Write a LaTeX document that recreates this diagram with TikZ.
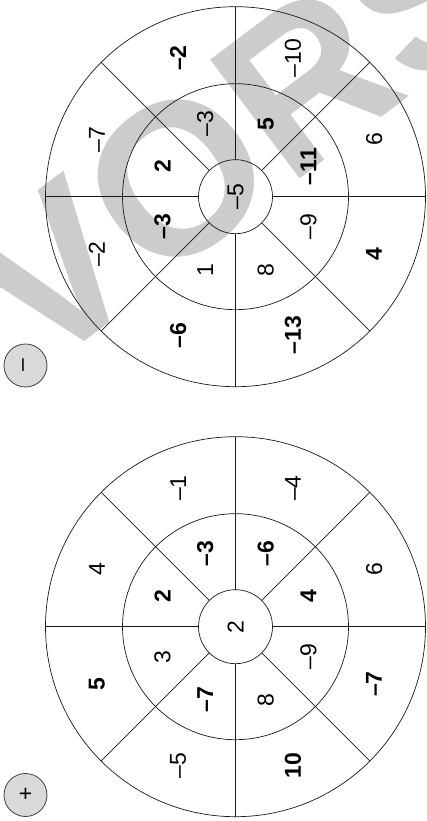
\documentclass[tikz,border=0pt]{standalone}
\usepackage{fontspec}
\setmainfont{Liberation Sans}
\usetikzlibrary{calc}
\newcommand\numfont{\fontsize{23}{27}\selectfont}
\newcommand\wmfont{\bfseries\fontsize{216}{230}\selectfont}
\tikzset{
  num/.style={rotate=90, inner sep=0pt, font=\numfont},
  bnum/.style={rotate=90, inner sep=0pt, font=\bfseries\numfont},
  ring/.style={line width=0.7pt, draw=black!90},
  signbox/.style={circle, draw=black!75, line width=0.8pt, fill=gray!30,
    minimum size=43pt, inner sep=0pt, font=\numfont},
  wm/.style={text=gray!40, inner sep=0pt, font=\wmfont}
}
\begin{document}
\begin{tikzpicture}[x=1pt, y=1pt]
\useasboundingbox (0,0) rectangle (426,821);
% watermark
\begin{scope}
  \clip (0,0) rectangle (426,821);
  \node[wm, anchor=base west, rotate=37] (wmark) at (39.5,445.7) {VORSCHAU};
\end{scope}
% centres
\coordinate (tc) at (235.5,624.3);
\coordinate (bc) at (235.5,194.3);
% rings and spokes
\foreach \c in {tc,bc}{
  \draw[ring] (\c) circle (190);
  \draw[ring] (\c) circle (113);
  \draw[ring] (\c) circle (37);
  \foreach \a in {0,45,...,315}
    \draw[ring, shift={(\c)}] (\a:37) -- (\a:190);
}
% top wheel (minus)
\foreach \a/\t/\s [count=\i] in {67.5/–10/num, 22.5/6/num, -22.5/4/bnum, -67.5/–13/bnum,
   -112.5/–6/bnum, -157.5/–2/num, 157.5/–7/num, 112.5/–2/bnum}
  \node[\s] (to\i) at ($(tc)+(\a:150)$) {\t};
\foreach \a/\t/\s [count=\i] in {67.5/5/bnum, 22.5/–11/bnum, -22.5/–9/num, -67.5/8/num,
   -112.5/1/num, -157.5/–3/bnum, 157.5/2/bnum, 112.5/–3/num}
  \node[\s] (tm\i) at ($(tc)+(\a:79)$) {\t};
\node[num] (tcenter) at (tc) {–5};
% bottom wheel (plus)
\foreach \a/\t/\s [count=\i] in {67.5/–4/num, 22.5/6/num, -22.5/–7/bnum, -67.5/10/bnum,
   -112.5/–5/num, -157.5/5/bnum, 157.5/4/num, 112.5/–1/num}
  \node[\s] (bo\i) at ($(bc)+(\a:150)$) {\t};
\foreach \a/\t/\s [count=\i] in {67.5/–6/bnum, 22.5/4/bnum, -22.5/–9/num, -67.5/8/num,
   -112.5/–7/bnum, -157.5/3/num, 157.5/2/bnum, 112.5/–3/bnum}
  \node[\s] (bm\i) at ($(bc)+(\a:79)$) {\t};
\node[num] (bcenter) at (bc) {2};
% operation signs
\node[signbox] (minus) at (25.5,455.5) {\rotatebox{90}{–}};
\node[signbox] (plus) at (25.5,26) {+};
\end{tikzpicture}
\end{document}
